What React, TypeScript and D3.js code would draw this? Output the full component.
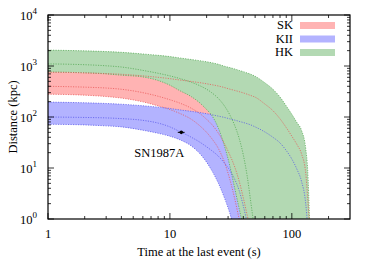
import React from 'react';
import * as d3 from 'd3';

// time of the last event (s), shared grid for every curve
const times = [1, 2, 3, 4, 6, 8, 10, 12, 15, 18, 20, 22, 25, 28, 31, 34, 37, 40, 43, 46, 50, 60, 70, 80, 90, 100, 110, 120, 130, 135, 140];

// HK (Hyper-Kamiokande)
const hkUpper = [2050, 1980, 1920, 1855, 1720, 1620, 1530, 1440, 1340, 1260, 1210, 1160, 1080, 990, 930, 875, 820, 775, 730, 690, 630, 470, 350, 246, 165, 113, 78, 55, 24, 9, 0.9];
const hkMid = [1100, 1060, 1010, 955, 820, 720, 640, 570, 480, 400, 350, 300, 230, 165, 110, 68, 38, 18, 7, 2.2, 0.5, null, null, null, null, null, null, null, null, null, null];
const hkLower = [760, 735, 700, 660, 610, 520, 420, 330, 250, 180, 140, 108, 60, 27, 11, 4, 1.6, 0.7, null, null, null, null, null, null, null, null, null, null, null, null, null];

// SK (Super-Kamiokande)
const skUpper = [760, 735, 710, 688, 640, 600, 565, 532, 497, 467, 448, 430, 405, 378, 352, 332, 314, 297, 280, 264, 245, 180, 133, 92, 62, 42, 29, 19, 8, 2.5, 0.7];
const skMid = [400, 385, 370, 350, 300, 255, 218, 188, 148, 112, 90, 72, 48, 30, 18, 10.5, 5.5, 2.6, 1.2, 0.6, null, null, null, null, null, null, null, null, null, null, null];
const skLower = [280, 268, 252, 235, 198, 165, 140, 118, 90, 64, 50, 38, 24, 13, 6, 2.5, 1, 0.5, null, null, null, null, null, null, null, null, null, null, null, null, null];

// KII (Kamiokande-II)
const kiiUpper = [196, 190, 184, 178, 166, 156, 147, 138, 129, 121, 116, 111, 104, 98, 92, 87, 82, 78, 74, 70, 64, 51, 40, 31, 22, 15, 9.5, 5.5, 2, 0.7, null];
const kiiMid = [100, 98, 96, 93, 86, 76, 64, 52, 40, 31, 26, 22, 17, 12.5, 9, 6, 3.6, 1.8, 0.85, null, null, null, null, null, null, null, null, null, null, null, null];
const kiiLower = [72, 70, 67, 64, 55, 48, 42, 36, 27, 18, 13, 9, 5, 2.6, 1.3, 0.6, null, null, null, null, null, null, null, null, null, null, null, null, null, null, null];

// SN1987A observed point
const snTime = [12.4];
const snTimeErr = [0.8];
const snDistance = [50];
const snLabel = 'SN1987A';

const legendLabels = ['SK', 'KII', 'HK'];
const xTickLabels = ['1', '10', '100'];
const yTickExps = ['0', '1', '2', '3', '4'];

const font = "'Liberation Serif', 'Times New Roman', serif";

export default function App() {
  const left = 48, right = 350, top = 15, bottom = 219;
  const x = d3.scaleLog().domain([1, 300]).range([left, right]);
  const y = d3.scaleLog().domain([1, 1e4]).range([bottom, top]);
  const idx = times.map((_, i) => i);

  const band = (upper: (number | null)[], lower: (number | null)[]) =>
    d3.area<number>()
      .x(i => x(times[i]))
      .y1(i => y(upper[i] ?? 1))
      .y0(i => y(lower[i] ?? 1))
      .curve(d3.curveMonotoneX)(idx) || '';

  const line = (s: (number | null)[]) =>
    d3.line<number>()
      .defined(i => s[i] != null)
      .x(i => x(times[i]))
      .y(i => y(s[i] as number))
      .curve(d3.curveMonotoneX)(idx) || '';

  const fills = [
    { d: band(skUpper, skLower), c: '#ffb3b3' },
    { d: band(kiiUpper, kiiLower), c: '#b3b3ff' },
    { d: band(hkUpper, hkLower), c: '#b3d9b3' },
  ];
  const green = '#4aa44a', red = '#e85050', blue = '#5050e8';
  const lines = [
    { s: hkUpper, c: green },
    { s: hkMid, c: green },
    { s: hkLower, c: green },
    { s: skUpper, c: red },
    { s: skMid, c: red },
    { s: skLower, c: red },
    { s: kiiUpper, c: blue },
    { s: kiiMid, c: blue },
    { s: kiiLower, c: blue },
  ];
  const legendColors = ['#ffb3b3', '#b3b3ff', '#b3d9b3'];

  const isMajor = (v: number) => Math.abs(Math.log10(v) - Math.round(Math.log10(v))) < 1e-9;
  const xTicks = x.ticks().filter(t => t < 300);
  const yTicks = y.ticks();

  return (
    <svg width={374} height={262} style={{ position: 'absolute', left: 0, top: 0, background: '#fff' }} fontFamily={font}>
      <defs>
        <clipPath id="plot">
          <rect x={left} y={top} width={right - left} height={bottom - top} />
        </clipPath>
      </defs>
      <g clipPath="url(#plot)">
        {fills.map((f, i) => <path key={i} d={f.d} fill={f.c} stroke="none" />)}
        {lines.map((l, i) => (
          <path key={i} d={line(l.s)} fill="none" stroke={l.c} strokeWidth={0.7} strokeDasharray="1.2 1.3" />
        ))}
      </g>

      {/* SN1987A */}
      {snTime.map((t, i) => (
        <g key={i}>
          <line x1={x(t - snTimeErr[i])} x2={x(t + snTimeErr[i])} y1={y(snDistance[i])} y2={y(snDistance[i])} stroke="#000" strokeWidth={1} />
          <circle cx={x(t)} cy={y(snDistance[i])} r={1.8} fill="#000" />
          <text x={x(t) - 22} y={y(snDistance[i]) + 25} fontSize={12.5} textAnchor="middle">{snLabel}</text>
        </g>
      ))}

      {/* ticks */}
      {xTicks.map((t, i) => {
        const len = isMajor(t) ? 6 : 3;
        return (
          <g key={'x' + i} stroke="#000" strokeWidth={0.8}>
            <line x1={x(t)} x2={x(t)} y1={bottom} y2={bottom - len} />
            <line x1={x(t)} x2={x(t)} y1={top} y2={top + len} />
          </g>
        );
      })}
      {yTicks.map((t, i) => {
        const len = isMajor(t) ? 6 : 3;
        return (
          <g key={'y' + i} stroke="#000" strokeWidth={0.8}>
            <line x1={left} x2={left + len} y1={y(t)} y2={y(t)} />
            <line x1={right} x2={right - len} y1={y(t)} y2={y(t)} />
          </g>
        );
      })}
      <rect x={left} y={top} width={right - left} height={bottom - top} fill="none" stroke="#000" strokeWidth={1.2} />

      {/* tick labels */}
      {xTickLabels.map((l, i) => (
        <text key={l} x={x(Math.pow(10, i))} y={238} fontSize={12.5} textAnchor="middle">{l}</text>
      ))}
      {yTickExps.map((e, i) => (
        <text key={e} x={37} y={y(Math.pow(10, i)) + 5} fontSize={12.5} textAnchor="end">
          10<tspan dy={-6} fontSize={9}>{e}</tspan>
        </text>
      ))}

      {/* axis titles */}
      <text x={199} y={256} fontSize={12.5} textAnchor="middle">Time at the last event (s)</text>
      <text transform={`translate(17, ${(top + bottom) / 2}) rotate(-90)`} fontSize={12.5} textAnchor="middle">Distance (kpc)</text>

      {/* legend */}
      {legendLabels.map((l, i) => (
        <g key={l}>
          <text x={293} y={29 + i * 13.5} fontSize={12.5} textAnchor="end">{l}</text>
          <rect x={300} y={22 + i * 13.5} width={35} height={7} fill={legendColors[i]} />
        </g>
      ))}
    </svg>
  );
}
